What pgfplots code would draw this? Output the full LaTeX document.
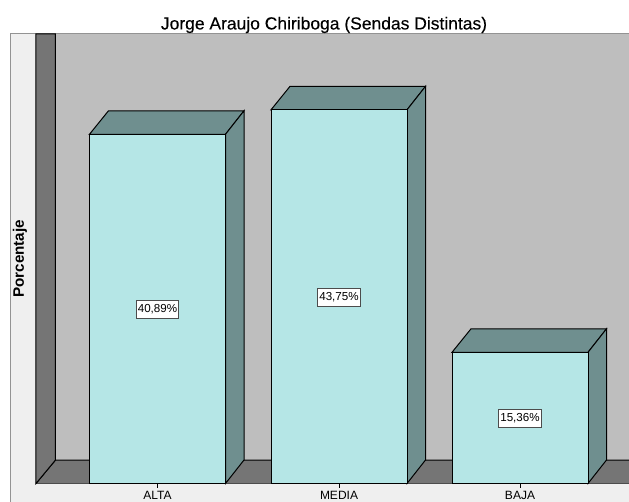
\documentclass[border=0pt]{standalone}
\usepackage{fontspec}
\setmainfont{Liberation Sans}
\newfontfamily\titlefont[FakeBold=0.25]{Liberation Sans}
\usepackage{pgfplots}
\pgfplotsset{compat=1.18}
\definecolor{panel}{HTML}{EFEFEF}
\definecolor{wallback}{HTML}{BEBEBE}
\definecolor{walldark}{HTML}{757575}
\definecolor{barfront}{HTML}{B5E6E6}
\definecolor{bardepth}{HTML}{6F8F8F}
\begin{document}
\begin{tikzpicture}[x=0.75pt,y=0.75pt]
\useasboundingbox (0,0) rectangle (629,501);
\fill[white] (0,0) rectangle (629,501);
\path[fill=panel,draw=gray!85,line width=0.75pt] (10,-2) rectangle (631,467);
\begin{axis}[
  at={(27pt,13.125pt)},anchor=south west,
  scale only axis,width=444.75pt,height=337.125pt,
  xmin=36,xmax=629,ymin=0,ymax=52.63,
  clip=false,
  axis x line*=bottom,axis y line*=left,
  x axis line style={-,draw=black,line width=0.75pt},
  y axis line style={-,draw=none},
  xtick={157.5,339,520},xticklabels={ALTA,MEDIA,BAJA},
  ytick=\empty,
  tick align=outside,major tick length=3pt,
  tick style={black,line width=0.75pt},
  x tick label style={font=\fontsize{9}{9}\selectfont,inner sep=0pt,anchor=north,yshift=-2.4pt,text height=6.4pt,text depth=0pt},
  title={Jorge Araujo Chiriboga (Sendas Distintas)},
  title style={font=\titlefont\fontsize{13.1}{15}\selectfont,at={(axis description cs:0.4857,1)},anchor=south,inner sep=0pt,yshift=-5.5pt},
  ylabel={\textbf{Porcentaje}},
  ylabel style={font=\fontsize{11.4}{13}\selectfont,at={(axis description cs:-0.0270,0.5)},anchor=center,rotate=0},
  every axis plot/.append style={line width=0.75pt},
]
% back wall
\addplot[fill=wallback,draw=none] coordinates {(55.5,2.75)(629,2.75)(629,52.63)(55.5,52.63)} --cycle;
% floor
\addplot[fill=walldark,draw=none] coordinates {(36,0)(55.5,2.75)(629,2.75)(629,0)} --cycle;
\addplot[draw=black] coordinates {(36,0)(55.5,2.75)(629,2.75)};
% left wall
\addplot[fill=walldark,draw=black] coordinates {(36,0)(55.5,2.75)(55.5,52.63)(36,52.63)} --cycle;
% ALTA depth
\addplot[fill=bardepth,draw=black] coordinates {(89.5,40.89)(108.5,43.64)(244,43.64)(225.5,40.89)} --cycle;
\addplot[fill=bardepth,draw=black] coordinates {(225.5,0)(244,2.75)(244,43.64)(225.5,40.89)} --cycle;
% MEDIA depth
\addplot[fill=bardepth,draw=black] coordinates {(271,43.75)(290,46.50)(425.5,46.50)(407,43.75)} --cycle;
\addplot[fill=bardepth,draw=black] coordinates {(407,0)(425.5,2.75)(425.5,46.50)(407,43.75)} --cycle;
% BAJA depth
\addplot[fill=bardepth,draw=black] coordinates {(452,15.36)(471,18.11)(606.5,18.11)(588,15.36)} --cycle;
\addplot[fill=bardepth,draw=black] coordinates {(588,0)(606.5,2.75)(606.5,18.11)(588,15.36)} --cycle;
% front faces
\addplot[ybar,bar shift=0pt,bar width=136,fill=barfront,draw=black] coordinates {(157.5,40.89)(339,43.75)(520,15.36)};
% value labels
\addplot[draw=none,mark=none,
  nodes near coords,point meta=explicit symbolic,
  every node near coord/.append style={anchor=center,fill=white,draw=gray!60!black,line width=0.75pt,
    font=\fontsize{8.7}{10}\selectfont,inner sep=0pt,inner xsep=1.2pt,text height=7pt,text depth=2.5pt,inner ysep=2pt,yshift=-0.6pt}]
  coordinates {(157.5,20.445)[40,89\%] (339,21.875)[43,75\%] (520,7.68)[15,36\%]};
\end{axis}
\end{tikzpicture}
\end{document}
